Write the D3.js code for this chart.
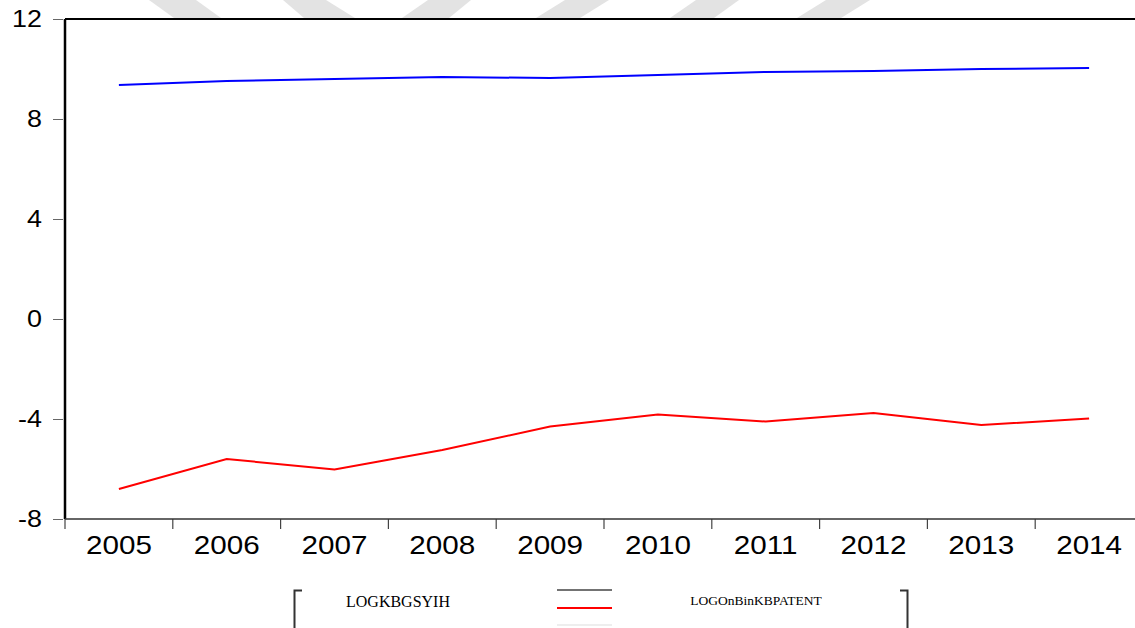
<!DOCTYPE html>
<html><head><meta charset="utf-8">
<script src="https://cdn.jsdelivr.net/npm/d3@7"></script>
<style>body{margin:0;background:#fff}svg{display:block}</style>
</head><body>
<svg id="c" width="1135" height="628"></svg>
<script>
const years = ["2005","2006","2007","2008","2009","2010","2011","2012","2013","2014"];
const logKBGSYIH = [9.36, 9.52, 9.60, 9.68, 9.64, 9.76, 9.88, 9.92, 10.00, 10.04];
const logPatent = [-6.80, -5.60, -6.02, -5.24, -4.30, -3.82, -4.10, -3.76, -4.24, -3.98];
const yTicks = [12, 8, 4, 0, -4, -8];
const seriesNames = ["LOGKBGSYIH", "LOGOnBinKBPATENT"];

const svg = d3.select("#c");
const L = 65, T = 19, B = 519, R = 1143;

// faint watermark stripes at top
const stripes = [[149,196,174,221],[283,326,304,355],[428,471,402,449],[565,609,536,580],[696,739,670,714],[826,870,797,841]];
svg.append("g").selectAll("path").data(stripes).join("path")
  .attr("d", s => `M${s[0]},0L${s[1]},0L${s[3]},18L${s[2]},18Z`)
  .attr("fill", "#e3e3e3");

const x = d3.scaleBand().domain(years).range([L, R]);
const y = d3.scaleLinear().domain([-8, 12]).range([B, T]);

// y axis
const ya = svg.append("g").attr("transform", `translate(${L},0)`)
  .call(d3.axisLeft(y).tickValues(yTicks).tickSize(12).tickPadding(10).tickFormat(d => String(d)));
ya.select(".domain").remove();
ya.selectAll(".tick line").attr("stroke", "#666").attr("x2", -2).attr("x1", -12);
ya.selectAll("text").attr("font-family", "Liberation Sans, Arial, sans-serif").attr("font-size", 24).attr("fill", "#000")
  .attr("x", -23 / 1.12).attr("transform", "scale(1.12,1)");

// x axis
const xa = svg.append("g").attr("transform", `translate(0,${B})`)
  .call(d3.axisBottom(x).tickSize(0).tickPadding(17));
xa.select(".domain").remove();
xa.selectAll("text").attr("font-family", "Liberation Sans, Arial, sans-serif").attr("font-size", 26).attr("fill", "#000")
  .attr("transform", "scale(1.14,1)");
svg.append("g").selectAll("line").data(years).join("line")
  .attr("x1", d => x(d)).attr("x2", d => x(d))
  .attr("y1", B).attr("y2", B + 10)
  .attr("stroke", "#444").attr("stroke-width", 1.2);

// frame
svg.append("line").attr("x1", L).attr("x2", 1135).attr("y1", T).attr("y2", T).attr("stroke", "#000").attr("stroke-width", 2);
svg.append("line").attr("x1", L).attr("x2", L).attr("y1", T).attr("y2", B).attr("stroke", "#000").attr("stroke-width", 2.5);
svg.append("line").attr("x1", L).attr("x2", 1135).attr("y1", B).attr("y2", B).attr("stroke", "#333").attr("stroke-width", 1.5);

const line = d3.line().x((d, i) => x(years[i]) + x.bandwidth() / 2).y(d => y(d));
svg.append("path").datum(logKBGSYIH).attr("d", line).attr("fill", "none").attr("stroke", "#0000ff").attr("stroke-width", 2);
svg.append("path").datum(logPatent).attr("d", line).attr("fill", "none").attr("stroke", "#ff0000").attr("stroke-width", 2);

// legend
const lg = svg.append("g");
lg.append("path").attr("d", "M302,590.5H294.5V628").attr("fill", "none").attr("stroke", "#333").attr("stroke-width", 2);
lg.append("path").attr("d", "M900,590.5H907.5V628").attr("fill", "none").attr("stroke", "#333").attr("stroke-width", 2);
lg.append("text").attr("x", 398).attr("y", 607).attr("text-anchor", "middle")
  .attr("font-family", "Liberation Serif, Times New Roman, serif").attr("font-size", 16).text(seriesNames[0]);
lg.append("text").attr("x", 756).attr("y", 605).attr("text-anchor", "middle")
  .attr("font-family", "Liberation Serif, Times New Roman, serif").attr("font-size", 13.5).text(seriesNames[1]);
lg.append("line").attr("x1", 557).attr("x2", 612).attr("y1", 590).attr("y2", 590).attr("stroke", "#444").attr("stroke-width", 1.5);
lg.append("line").attr("x1", 557).attr("x2", 612).attr("y1", 608).attr("y2", 608).attr("stroke", "#ff0000").attr("stroke-width", 2);
lg.append("line").attr("x1", 557).attr("x2", 612).attr("y1", 625).attr("y2", 625).attr("stroke", "#e8e8e8").attr("stroke-width", 1.5);
</script>
</body></html>
